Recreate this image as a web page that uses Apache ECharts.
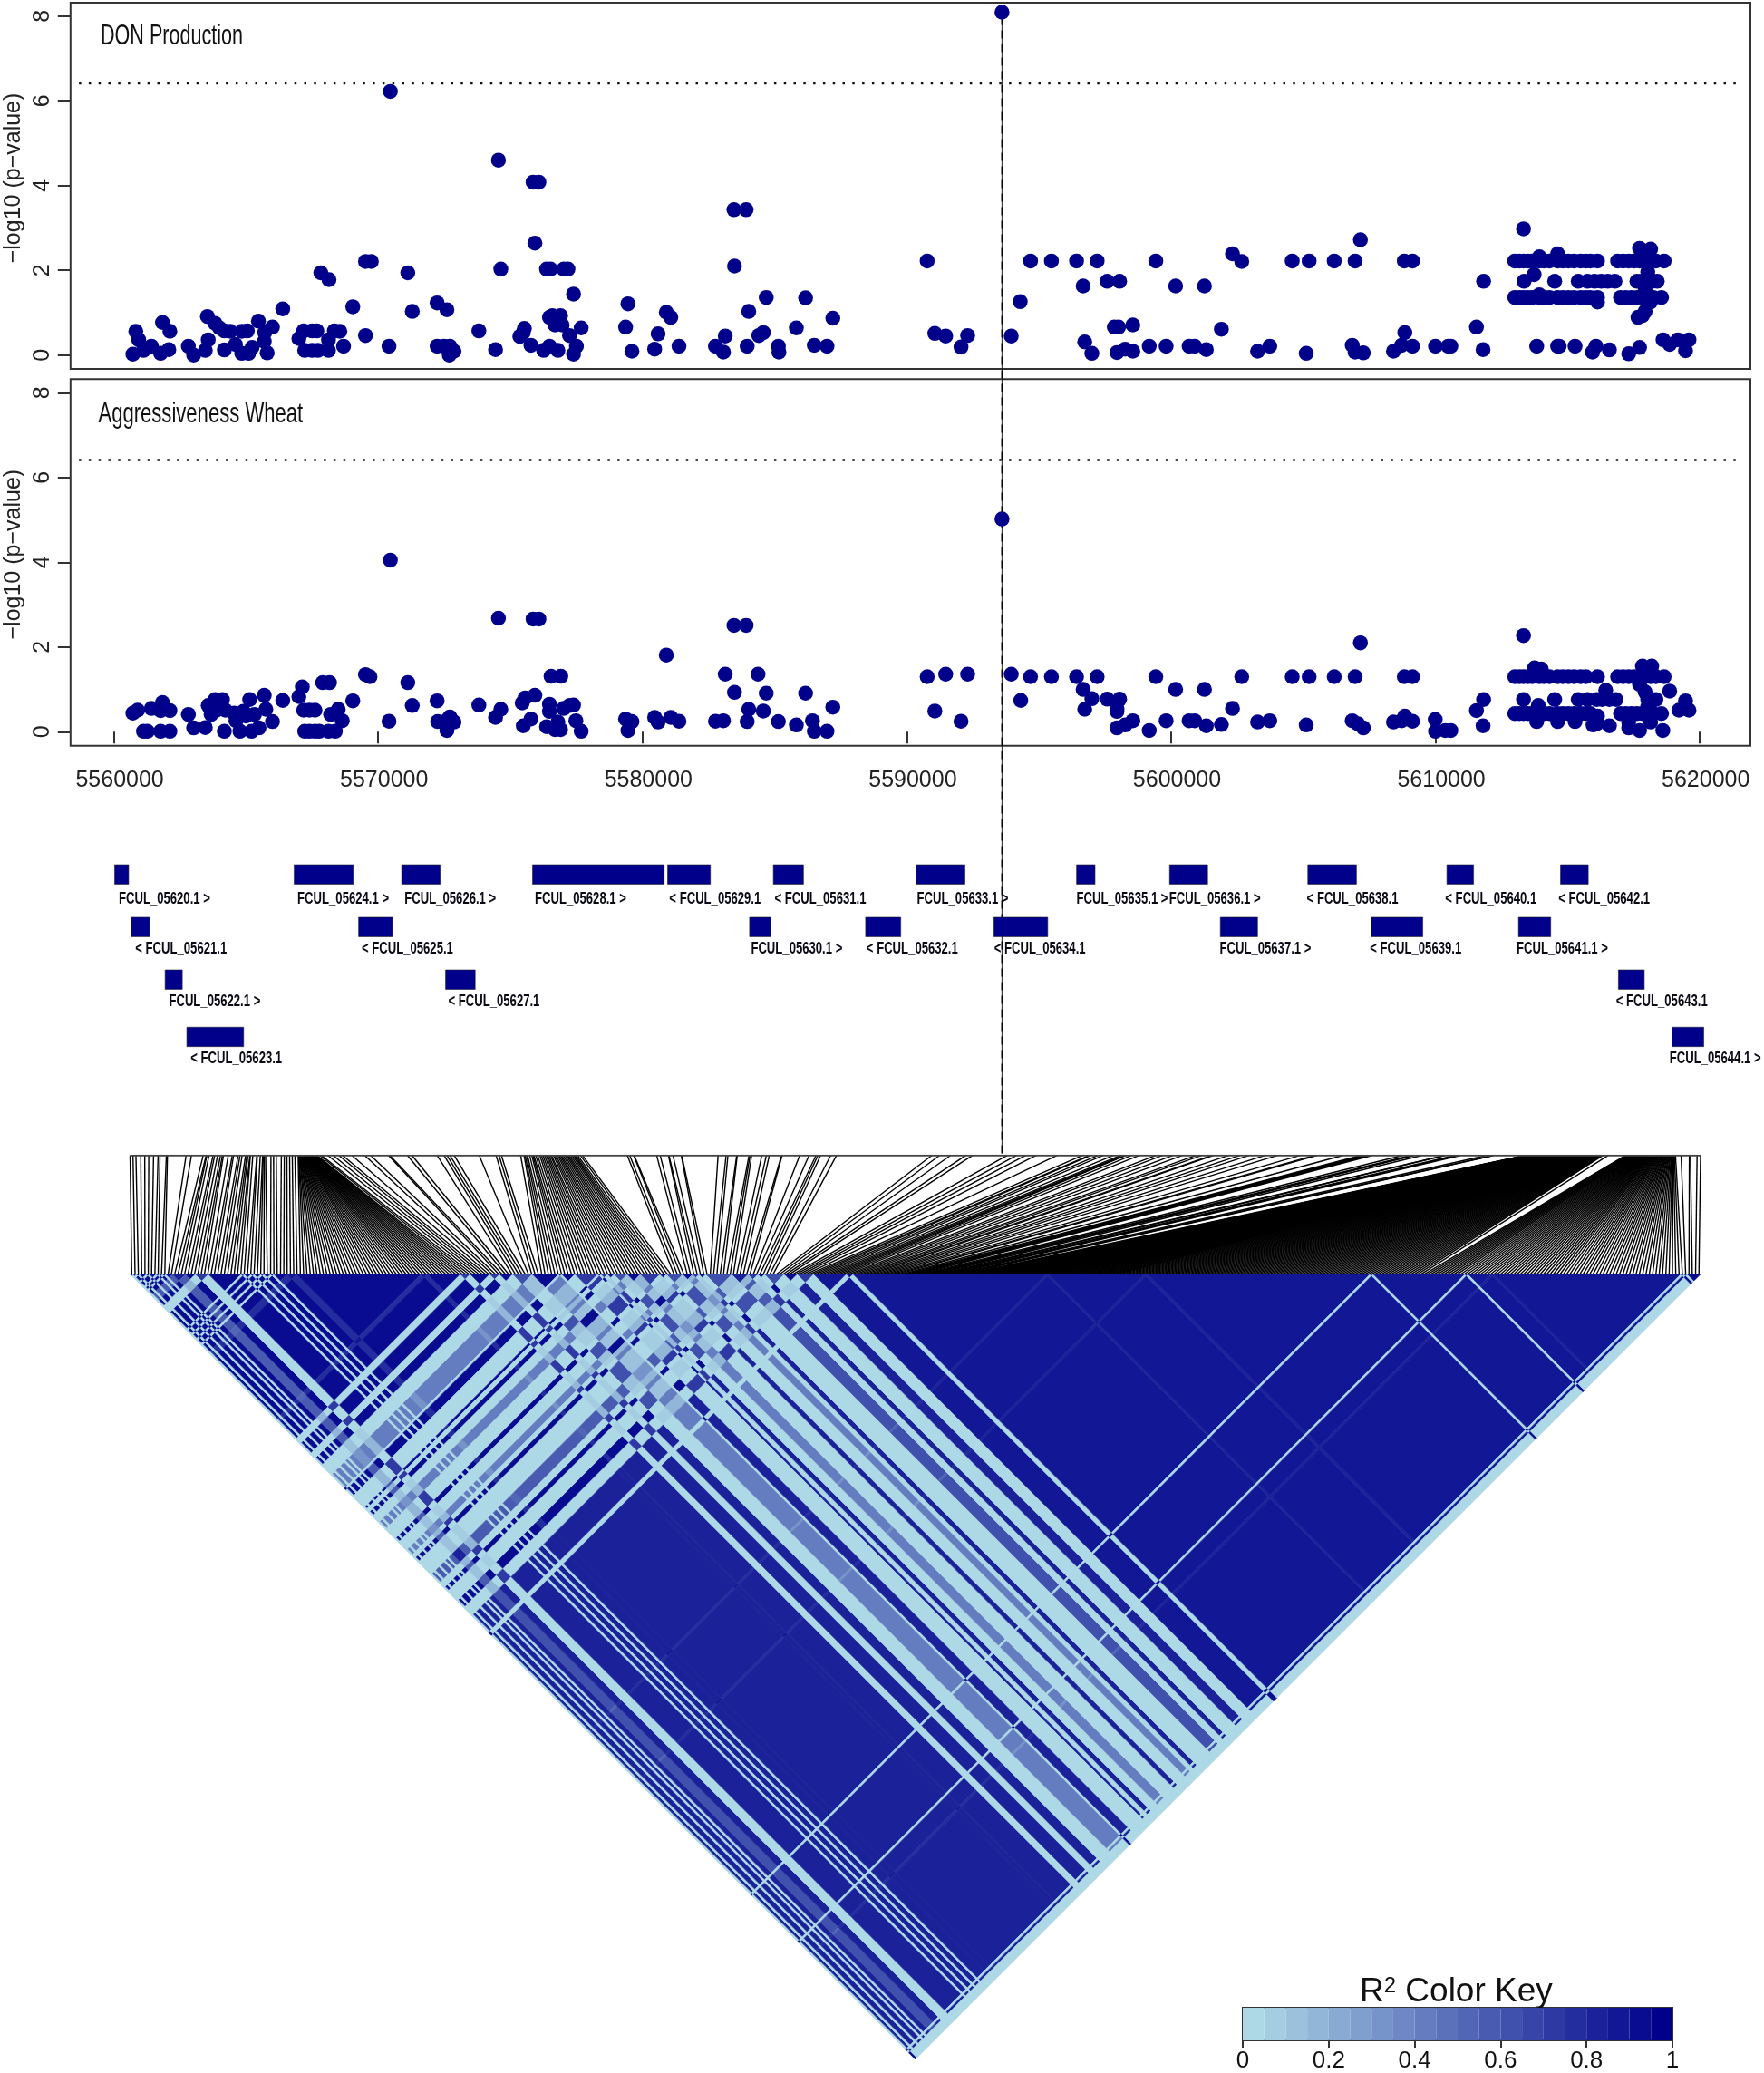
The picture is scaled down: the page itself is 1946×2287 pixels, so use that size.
<!DOCTYPE html>
<html>
<head>
<meta charset="utf-8">
<style>
  html, body { margin: 0; background: #fff; }
  #chart { width: 1946px; height: 2287px; }
</style>
<script src="https://cdn.jsdelivr.net/npm/echarts@6/dist/echarts.min.js"></script>
</head>
<body>
<div id="chart"></div>
<script>
// positions below are kb past 5560000
const ORIGIN_BP = 5560000;
const xTicks = [5560000, 5570000, 5580000, 5590000, 5600000, 5610000, 5620000];
const yTicks = [0, 2, 4, 6, 8];
const threshold = 6.41;
const leadSnp = 33.6;

const donPoints = [[.72,.02],[.83,.56],[.94,.36],[1.12,.11],[1.42,.21],[1.77,.04],[1.84,.77],[2.12,.56],[2.08,.13],[2.82,.21],[3.02,0],[3.46,.11],[3.57,.36],[3.54,.91],[3.83,.75],[4,.64],[4.18,.57],[4.18,.12],[4.4,.56],[4.6,.25],[4.84,.56],[4.84,.04],[5.05,.57],[5.1,.04],[5.23,.18],[5.47,.8],[5.69,.32],[5.71,.53],[5.8,.05],[6,.66],[6.39,1.09],[7,.39],[7.18,.57],[7.22,.11],[7.5,.57],[7.68,.57],[7.5,.11],[7.72,.11],[7.83,1.94],[8.14,1.78],[8.12,.36],[8.12,.11],[8.34,.57],[8.55,.56],[8.69,.21],[9.04,1.14],[9.52,.46],[9.52,2.21],[9.74,2.21],[10.41,.21],[10.46,6.22],[11.12,1.94],[11.29,1.03],[12.23,1.23],[12.23,.21],[12.49,.21],[12.6,1.07],[12.71,.21],[12.69,0],[12.87,.09],[13.81,.57],[14.44,.13],[14.55,4.6],[14.64,2.03],[15.36,.44],[15.49,.53],[15.53,.63],[15.78,.23],[15.93,2.64],[15.86,4.08],[16.08,4.08],[16.26,.11],[16.37,2.03],[16.52,2.03],[16.48,.21],[16.48,.89],[16.59,.93],[16.69,.71],[16.9,.93],[16.96,.71],[16.8,.11],[17.02,2.03],[17.18,2.03],[17.24,.46],[17.39,1.44],[17.5,.21],[17.39,.02],[17.68,.64],[19.36,.66],[19.45,1.21],[19.6,.09],[20.46,.14],[20.59,.5],[20.9,1.01],[21.07,.89],[21.38,.21],[22.76,.21],[23.06,.07],[23.13,.45],[23.48,2.1],[23.46,3.43],[23.92,3.43],[23.96,.21],[24.02,1.03],[24.4,.46],[24.57,.53],[24.68,1.36],[25.14,.21],[25.16,.07],[25.82,.64],[26.17,1.35],[26.5,.23],[26.98,.21],[27.2,.87],
[30.77,2.22],[31.06,.51],[31.47,.45],[32.05,.19],[32.3,.46],[33.6,8.09],[33.95,.45],[34.29,1.26],[34.68,2.22],[35.47,2.22],[36.42,2.22],[36.67,1.63],[36.73,.31],[37,.04],[37.2,2.22],[37.58,1.74],[38.05,1.74],[37.85,.66],[38.01,.66],[37.95,.06],[38.26,.14],[38.55,.71],[38.55,.09],[39.17,.21],[39.42,2.22],[39.81,.21],[40.17,1.63],[40.68,.21],[40.89,.21],[41.26,1.63],[41.33,.13],[41.9,.61],[42.32,2.39],[42.67,2.21],[43.27,.09],[43.73,.21],[44.58,2.22],[45.11,.04],[45.22,2.22],[46.17,2.22],[46.85,.23],[46.96,2.22],[46.96,.07],[47.27,.05],[47.16,2.72],[48.41,.09],[48.72,.23],[48.84,.53],[48.82,2.22],[49.13,2.22],[49.13,.21],[50,.21],[50.48,.21],[50.58,.21],[51.55,.66],[51.8,.13],[51.82,1.74],
[53,2.22],[53.17,2.22],[53.33,2.22],[53.5,2.22],[53.66,2.22],[53.93,2.32],[53.93,2.22],[54.1,2.22],[54.31,2.22],[54.62,2.39],[54.62,2.22],[54.82,2.22],[55.03,2.22],[55.24,2.22],[55.49,2.22],[55.69,2.22],[55.86,2.22],[56.13,2.22],[53.33,2.98],
[53.35,1.74],[53.73,1.9],[54.51,1.74],[55.4,1.74],[55.75,1.74],[56.02,1.74],[56.27,1.74],[56.52,1.74],[56.79,1.74],
[53,1.36],[53.17,1.36],[53.33,1.36],[53.5,1.36],[53.66,1.36],[53.93,1.42],[53.93,1.36],[54.1,1.36],[54.31,1.36],[54.62,1.36],[54.82,1.36],[55.03,1.36],[55.24,1.36],[55.49,1.36],[55.69,1.36],[55.86,1.36],[56.13,1.36],[56.13,1.25],
[56.89,2.22],[57.1,2.22],[57.31,2.22],[57.52,2.22],[57.72,2.22],[57.93,2.22],[58.14,2.22],[58.34,2.22],[58.65,2.22],[57.72,2.52],[57.93,2.42],[58.14,2.5],
[57.62,1.74],[58.39,1.74],[57.8,1.74],[58.2,1.74],[58.03,1.96],[57.93,1.53],[58.14,1.25],[57.93,1.03],[57.66,.89],[57.83,.93],[58.03,1.3],
[57,1.36],[57.2,1.36],[57.41,1.36],[57.62,1.36],[57.83,1.36],[58.03,1.36],[58.24,1.36],[58.55,1.36],
[53.83,.21],[54.62,.21],[54.68,.21],[55.28,.21],[55.94,.07],[56.07,.21],[56.58,.12],[57.31,.03],[57.72,.18],[58.61,.36],[58.86,.25],[59.17,.36],[59.46,.1],[59.59,.36]];

const aggPoints = [[.72,.44],[.9,.51],[1.12,.01],[1.27,.01],[1.42,.55],[1.77,.01],[1.84,.69],[1.77,.5],[2.12,.01],[2.12,.5],[2.82,.41],[3.02,.09],[3.46,.1],[3.57,.62],[3.68,.41],[3.83,.76],[3.89,.51],[4.11,.76],[4.18,.01],[4.22,.51],[4.55,.44],[4.62,.26],[4.77,.01],[4.9,.48],[5,.37],[5.14,.76],[5.21,.01],[5.32,.41],[5.49,.09],[5.69,.86],[5.75,.53],[6,.24],[6.39,.74],[7,.83],[7.13,1.06],[7.18,.51],[7.4,.51],[7.61,.51],[7.22,.01],[7.4,.01],[7.61,.01],[7.77,.01],[7.9,1.16],[8.16,1.16],[8.12,.01],[8.2,.41],[8.38,.01],[8.49,.53],[8.64,.26],[9.04,.73],[9.52,1.35],[9.69,1.3],[10.41,.25],[10.46,4.05],[11.12,1.16],[11.29,.62],[12.23,.73],[12.25,.24],[12.53,.24],[12.6,.03],[12.71,.35],[12.87,.23],[13.81,.63],[14.44,.34],[14.55,2.68],[14.64,.53],[15.45,.68],[15.56,.8],[15.49,.14],[15.78,.3],[15.93,.86],[15.86,2.66],[16.08,2.66],[16.37,.12],[16.48,.65],[16.48,.48],[16.69,.05],[16.8,.23],[16.9,.05],[16.54,1.31],[16.91,1.31],[17.02,.55],[17.24,.62],[17.39,.63],[17.48,.26],[17.68,.01],[19.36,.3],[19.45,.03],[19.6,.24],[20.46,.34],[20.59,.23],[20.9,1.81],[21.07,.34],[21.38,.25],[22.76,.25],[23.06,.26],[23.13,1.36],[23.48,.93],[23.46,2.51],[23.92,2.51],[23.96,.24],[24.02,.53],[24.37,1.36],[24.57,.49],[24.68,.91],[25.14,.24],[25.82,.16],[26.17,.91],[26.43,.26],[26.5,.01],[26.98,.01],[27.2,.58],
[30.77,1.3],[31.06,.49],[31.47,1.36],[32.05,.25],[32.3,1.36],[33.6,5.02],[33.95,1.36],[34.31,.74],[34.68,1.3],[35.47,1.3],[36.42,1.3],[36.67,1],[36.73,.53],[37,.78],[37.2,1.3],[37.58,.77],[37.95,.55],[37.95,.48],[38.05,.77],[37.95,.09],[38.26,.16],[38.55,.26],[39.17,.03],[39.42,1.3],[39.81,.26],[40.17,1],[40.68,.26],[40.89,.26],[41.26,1],[41.33,.14],[41.9,.17],[42.32,.55],[42.67,1.3],[43.27,.23],[43.73,.26],[44.58,1.3],[45.11,.16],[45.22,1.3],[46.17,1.3],[46.85,.26],[46.96,1.3],[47.06,.19],[47.27,.09],[47.16,2.1],[48.41,.23],[48.72,.26],[48.84,.37],[48.82,1.3],[49.13,1.3],[49.13,.25],[49.99,.29],[50,.01],[50.37,.03],[50.58,.03],[51.55,.5],[51.8,.14],[51.82,.76],
[53,1.3],[53.17,1.3],[53.33,1.3],[53.5,1.3],[53.66,1.3],[53.93,1.3],[54.1,1.3],[54.31,1.3],[54.62,1.3],[54.82,1.3],[55.03,1.3],[55.24,1.3],[55.49,1.3],[55.69,1.3],[56.13,1.3],[53.75,1.51],[54,1.48],[53.33,2.27],
[53.33,.76],[54.51,.76],[55.4,.76],[55.75,.76],[56.1,.76],[56.44,.98],[56.58,.76],[56.83,.76],[56.3,.76],
[53,.43],[53.17,.43],[53.33,.43],[53.5,.43],[53.66,.43],[53.89,.62],[53.93,.43],[54.1,.43],[54.31,.43],[54.62,.43],[54.82,.43],[55.03,.43],[55.24,.43],[55.49,.43],[55.69,.43],[55.86,.43],[56.13,.37],[56.1,.19],
[53.83,.24],[54.62,.24],[55.28,.24],[55.96,.16],[56.58,.14],
[56.89,1.3],[57.1,1.3],[57.31,1.3],[57.52,1.3],[57.72,1.3],[57.93,1.3],[58.14,1.3],[58.34,1.3],[58.65,1.3],[57.83,1.55],[58.18,1.55],[57.9,1.45],[58.1,1.45],[57.72,1.12],[57.93,.94],[58.34,.76],[58.03,.76],[58.03,.59],
[57,.43],[57.2,.43],[57.41,.43],[57.62,.43],[57.83,.43],[58.03,.43],[58.24,.43],[58.55,.43],[57.31,.09],[57.72,.03],[58.6,.03],[58.14,.23],[57.31,.23],[58.86,.96],[59.21,.51],[59.46,.73],[59.59,.51]];

const geneNames = ['FCUL_05620.1','FCUL_05621.1','FCUL_05622.1','FCUL_05623.1','FCUL_05624.1','FCUL_05625.1','FCUL_05626.1','FCUL_05627.1','FCUL_05628.1','FCUL_05629.1','FCUL_05630.1','FCUL_05631.1','FCUL_05632.1','FCUL_05633.1','FCUL_05634.1','FCUL_05635.1','FCUL_05636.1','FCUL_05637.1','FCUL_05638.1','FCUL_05639.1','FCUL_05640.1','FCUL_05641.1','FCUL_05642.1','FCUL_05643.1','FCUL_05644.1'];
const geneStart = [.03,.66,1.94,2.76,6.82,9.26,10.89,12.55,15.84,20.95,24.05,24.95,28.44,30.36,33.29,36.42,39.94,41.86,45.17,47.57,50.43,53.14,54.73,56.92,58.95];
const geneEnd = [.56,1.35,2.59,4.91,9.06,10.54,12.35,13.67,20.82,22.57,24.85,26.09,29.77,32.2,35.33,37.12,41.38,43.27,47.01,49.52,51.44,54.36,55.78,57.9,60.15];
const geneStrand = ['>','<','>','<','>','<','>','<','>','<','>','<','<','>','<','>','>','>','<','<','<','>','<','<','>'];
const geneLevel = [0,1,2,3.09,0,1,0,2,0,0,1,0,1,0,1,0,0,1,0,1,0,1,0,2,3.09];

// SNP positions behind the connector fan
const snpPositions = [.72,.83,.94,1.12,1.27,1.42,1.6,1.77,1.84,2.08,2.12,2.82,3.02,3.46,3.57,3.6,3.68,3.83,3.89,4,4.11,4.18,4.22,4.4,4.55,4.6,4.77,4.84,4.92,5.05,5.1,5.14,5.21,5.23,5.32,5.47,5.49,5.6,5.69,5.71,5.75,5.8,6,6.1,6.2,6.39,6.5,6.6,6.7,6.8,6.9,
7.02,7.04,7.05,7.07,7.08,7.1,7.11,7.13,7.14,7.15,7.17,7.18,7.2,7.21,7.23,7.24,7.25,7.27,7.28,7.3,7.31,7.33,7.34,7.35,7.37,7.38,7.4,7.41,7.42,7.44,7.45,7.47,7.48,7.5,7.51,7.52,7.54,7.55,7.57,7.58,7.6,7.61,7.62,7.64,7.65,7.67,7.68,7.69,7.71,7.72,7.73,
7.83,7.9,8.14,8.34,8.55,8.69,9.04,9.52,9.74,10.41,10.46,11.12,11.29,12.23,12.49,12.6,12.71,12.87,13.81,14.44,14.55,14.64,15.36,15.49,
15.53,15.58,15.62,15.7,15.78,15.82,15.86,15.93,16,16.08,16.14,16.2,16.26,16.32,16.37,16.42,16.48,16.52,16.59,16.64,16.69,16.75,16.8,16.85,16.9,16.96,17.02,17.08,17.13,17.18,17.24,17.3,17.35,17.39,17.44,17.5,17.6,17.68,
19.36,19.45,19.6,19.62,20.46,20.59,20.9,20.92,21.07,21.38,21.4,22.76,23.06,23.13,23.46,23.48,23.92,23.96,24.02,24.4,24.57,24.68,25.14,25.16,25.82,26.17,26.43,26.5,26.6,26.98,27.2,
30.77,31.06,31.47,32.05,32.3,33.6,33.95,34.29,34.68,35.47,36.42,36.67,36.73,37,37.2,37.58,37.85,37.95,38.01,38.05,38.26,38.55,39.17,39.42,39.81,40.17,40.68,40.89,41.26,41.33,41.9,42.32,42.67,43.27,43.73,44.58,45.11,45.22,46.17,46.85,46.96,47.06,47.16,47.27,48.41,48.72,48.82,48.84,49.13,49.99,50,50.37,50.48,50.58,51.55,51.8,51.82,
53,53.02,53.04,53.06,53.08,53.11,53.13,53.15,53.17,53.19,53.21,53.23,53.26,53.28,53.3,53.32,53.34,53.36,53.38,53.41,53.43,53.45,53.47,53.49,53.51,53.53,53.56,53.58,53.6,53.62,53.64,53.66,53.68,53.71,53.73,53.75,53.77,53.79,53.81,53.83,53.86,53.88,53.9,53.92,53.94,53.96,53.98,54.01,54.03,54.05,54.07,54.09,54.11,54.13,54.16,54.18,54.2,54.22,54.24,54.26,54.28,54.31,54.33,54.35,54.37,54.39,54.41,54.43,54.46,54.48,54.5,54.52,54.54,54.56,54.58,54.61,54.63,54.65,54.67,54.69,54.71,54.73,54.76,54.78,54.8,54.82,54.84,54.86,54.88,54.91,54.93,54.95,54.97,54.99,55.01,55.03,55.06,55.08,55.1,55.12,55.14,55.16,55.18,55.21,55.23,55.25,55.27,55.29,55.31,55.33,55.36,55.38,55.4,55.42,55.44,55.46,55.48,55.51,55.53,55.55,55.57,55.59,55.61,55.63,55.66,55.68,55.7,55.72,55.74,55.76,55.78,55.81,55.83,55.85,55.87,55.89,55.91,55.93,
56.13,56.78,56.8,56.81,56.83,56.85,56.87,56.89,56.9,56.92,56.95,56.97,57,57.02,57.05,57.07,57.09,57.12,57.14,57.17,57.19,57.22,57.24,57.27,57.29,57.31,57.34,57.36,57.39,57.41,57.44,57.46,57.49,57.51,57.53,57.56,57.58,57.61,57.63,57.66,57.68,57.7,57.73,57.75,57.78,57.8,57.83,57.85,57.88,57.9,57.92,57.95,57.97,58,58.02,58.05,58.07,58.1,58.12,58.14,58.17,58.19,58.22,58.24,58.27,58.29,58.31,58.34,58.36,58.39,58.41,58.44,58.46,58.49,58.51,58.53,58.56,58.58,58.61,58.65,
58.86,59.17,59.21,59.46,59.59];

// LD triangle: runs of neighbouring SNPs read along the base, and their r2 by class
const bandSnps = [1,1,1,2,1,2,1,1,1,2, 4,3,4,10, 1,2,1,2,1,2,1,4, 3,38,2,10, 3,6,3,4, 6,8,1,4, 7,1,2,2, 4,4, 6,2,5,3, 2,2,8,5, 3,2,6,4, 5,10, 2,59,1,29,1,68,1,28,1,7,1,57,1,1,4];
const bandClass = 'lAkAkAkAkA' + 'mAxA' + 'kAkAkAkA' + 'fAfA' + 'xAxA' + 'ynlA' + 'xAxA' + 'yn' + 'xAyn' + 'xAym' + 'xAyA' + 'xB' + 'lBfBfBlBlBfBlBl';
const classNames = 'ABmflxynk';
const classR2 = [
  [.9,.84,.55,.78,.03,.04,.04,.42,.04],
  [.84,.88,.62,.8,.03,.03,.04,.44,.03],
  [.55,.62,.82,.5,.03,.15,.1,.3,.03],
  [.78,.8,.5,.85,.03,.04,.04,.3,.03],
  [.03,.03,.03,.03,.9,.04,.04,.04,.04],
  [.04,.03,.15,.04,.04,.72,.08,.15,.04],
  [.04,.04,.1,.04,.04,.08,.6,.1,.04],
  [.42,.44,.3,.3,.04,.15,.1,.9,.04],
  [.04,.03,.03,.03,.04,.04,.04,.04,.88]
];
const keyLevels = [0,.05,.1,.15,.2,.25,.3,.35,.4,.45,.5,.55,.6,.65,.7,.75,.8,.85,.9,.95];
const keyTicks = [0,.2,.4,.6,.8,1];

const FONT = '"Liberation Sans", Arial, sans-serif';
const DOT = '#00008B';
const INK = '#333333';

const toBp = k => ORIGIN_BP + k * 1000;
const xMin = 5558361, xMax = 5621914;

// colorRamp from lightblue to darkblue, 20 steps
const ramp = keyLevels.map((_, i) => {
  const t = i / 19;
  const c = [173 - 173 * t, 216 - 216 * t, 230 - 91 * t].map(Math.round);
  return `rgb(${c[0]},${c[1]},${c[2]})`;
});
const r2Color = v => ramp[Math.min(19, Math.floor(v * 20))];

// pairs of bands become rectangles in (snp a, snp b) space
const snpCount = bandSnps.reduce((s, n) => s + n, 0);
const ldCells = [];
{
  const starts = [];
  let s = 0;
  bandSnps.forEach(n => { starts.push(s); s += n; });
  for (let p = 0; p < bandSnps.length; p++) {
    for (let q = p; q < bandSnps.length; q++) {
      const cp = classNames.indexOf(bandClass[p]);
      const cq = classNames.indexOf(bandClass[q]);
      ldCells.push([starts[p], starts[p] + bandSnps[p], starts[q], starts[q] + bandSnps[q], classR2[cp][cq]]);
    }
  }
}

const topFrom = Math.min(...snpPositions), topTo = Math.max(...snpPositions);
const fanLines = snpPositions.map((k, i) => [(k - topFrom) / (topTo - topFrom), (i + .5) / snpPositions.length]);

const geneData = geneNames.map((n, i) => [toBp(geneStart[i]), toBp(geneEnd[i]), geneLevel[i], i]);

const chart = echarts.init(document.getElementById('chart'), null, { renderer: 'canvas' });

const hiddenX = (gridIndex, min, max) => ({ gridIndex, type: 'value', min, max, show: false });
const hiddenY = (gridIndex, min, max, inverse) => ({ gridIndex, type: 'value', min, max, inverse: !!inverse, show: false });
const panelY = (gridIndex, min, max) => ({
  gridIndex, type: 'value', min, max,
  axisLine: { show: false },
  splitLine: { show: false },
  axisTick: { show: true, length: 14, customValues: yTicks, lineStyle: { color: INK, width: 2 } },
  axisLabel: { customValues: yTicks, rotate: 90, margin: 18, fontSize: 25, fontFamily: FONT, color: '#222' }
});

const condensedText = (text, x, y, fontSize, scaleX) => ({
  type: 'text', x, y, scaleX,
  style: { text, font: `${fontSize}px ${FONT}`, fill: '#111', align: 'left', verticalAlign: 'middle' }
});
const yTitle = y => ({
  type: 'text', x: 15, y, rotation: Math.PI / 2,
  style: { text: '\u2212log10 (p\u2212value)', font: `25px ${FONT}`, fill: '#222', align: 'center', verticalAlign: 'middle' }
});
const thresholdLine = idx => ({
  type: 'line', xAxisIndex: idx, yAxisIndex: idx, z: 1, silent: true, symbol: 'none',
  lineStyle: { color: '#111', width: 2.5, type: [2.5, 8.3] },
  data: [[5558680, threshold], [5621640, threshold]]
});
const dotSeries = (idx, points) => ({
  type: 'scatter', xAxisIndex: idx, yAxisIndex: idx, z: 3, silent: true,
  symbolSize: 16.5, itemStyle: { color: DOT, opacity: 1 },
  data: points.map(p => [toBp(p[0]), p[1]])
});

chart.setOption({
  animation: false,
  backgroundColor: '#fff',
  grid: [
    { left: 77.8, top: 3, width: 1853.2, height: 404, show: true, borderColor: INK, borderWidth: 2 },
    { left: 77.8, top: 418.3, width: 1853.2, height: 404.4, show: true, borderColor: INK, borderWidth: 2 },
    { left: 77.8, top: 954, width: 1853.2, height: 232 },
    { left: 77.8, top: 13, width: 1853.2, height: 1259.5 },
    { left: 143.5, top: 1274.7, width: 1732.5, height: 131 },
    { left: 143.5, top: 1405.7, width: 1732.5, height: 866.25 },
    { left: 1371, top: 2215, width: 474, height: 40, show: true, borderColor: INK, borderWidth: 2 }
  ],
  xAxis: [
    hiddenX(0, xMin, xMax),
    {
      gridIndex: 1, type: 'value', min: xMin, max: xMax,
      axisLine: { show: false },
      splitLine: { show: false },
      axisTick: { show: true, length: 13, customValues: xTicks, lineStyle: { color: INK, width: 2 } },
      axisLabel: { customValues: xTicks, formatter: v => String(v), margin: 26, fontSize: 25, fontFamily: FONT, color: '#222', padding: [0, 0, 0, 13] }
    },
    hiddenX(2, xMin, xMax),
    hiddenX(3, xMin, xMax),
    hiddenX(4, 0, 1),
    hiddenX(5, 0, snpCount),
    {
      gridIndex: 6, type: 'value', min: 0, max: 1,
      axisLine: { show: false },
      splitLine: { show: false },
      axisTick: { show: true, length: 8, customValues: keyTicks, lineStyle: { color: INK, width: 2 } },
      axisLabel: { customValues: keyTicks, margin: 10, fontSize: 26, fontFamily: FONT, color: '#111', formatter: v => String(v) }
    }
  ],
  yAxis: [
    panelY(0, -0.327, 8.314),
    panelY(1, -0.329, 8.32),
    hiddenY(2, 0, 4, true),
    hiddenY(3, 0, 1),
    hiddenY(4, 0, 1),
    hiddenY(5, 0, snpCount / 2, true),
    hiddenY(6, 0, 1)
  ],
  graphic: [
    condensedText('DON Production', 111, 40.5, 32, .674),
    condensedText('Aggressiveness Wheat', 108.4, 456.7, 32, .69),
    yTitle(196.5),
    yTitle(611.7),
    {
      type: 'text', x: 1500, y: 2198,
      style: {
        text: '{a|R}{s|2}{a| Color Key}',
        fill: '#111',
        verticalAlign: 'middle',
        rich: {
          a: { font: `37px ${FONT}`, fill: '#111' },
          s: { font: `24px ${FONT}`, fill: '#111', verticalAlign: 'top' }
        }
      }
    }
  ],
  series: [
    // lead SNP marker runs through both panels, genes and down to the LD box
    {
      type: 'line', xAxisIndex: 3, yAxisIndex: 3, z: 1, silent: true, symbol: 'none',
      lineStyle: { color: '#222', width: 1 },
      data: [[toBp(leadSnp), 0], [toBp(leadSnp), 1]]
    },
    {
      type: 'line', xAxisIndex: 3, yAxisIndex: 3, z: 1, silent: true, symbol: 'none',
      lineStyle: { color: '#000', width: 1.6, type: [9, 6] },
      data: [[toBp(leadSnp), 0], [toBp(leadSnp), 1]]
    },
    thresholdLine(0),
    thresholdLine(1),
    dotSeries(0, donPoints),
    dotSeries(1, aggPoints),
    // genes
    {
      type: 'custom', xAxisIndex: 2, yAxisIndex: 2, z: 2, silent: true, clip: false,
      data: geneData,
      renderItem(params, api) {
        const i = api.value(3);
        const a = api.coord([api.value(0), api.value(2)]);
        const b = api.coord([api.value(1), api.value(2) + .37]);
        // R drew the labels on a slightly different scale, they drift left along the axis
        const drift = 4.5 - 7.5 * geneStart[i] / 60;
        const label = geneStrand[i] === '>' ? `${geneNames[i]} >` : `< ${geneNames[i]}`;
        return {
          type: 'group',
          children: [
            { type: 'rect', shape: { x: a[0], y: a[1], width: b[0] - a[0], height: b[1] - a[1] }, style: { fill: DOT, stroke: '#223', lineWidth: .6 } },
            {
              type: 'text', x: a[0] + drift, y: a[1] + (api.value(2) === 0 ? 37.5 : 35), scaleX: .69,
              style: { text: label, font: `bold 19px ${FONT}`, fill: '#0a0a14', align: 'left', verticalAlign: 'middle' }
            }
          ]
        };
      }
    },
    // connector fan
    {
      type: 'custom', xAxisIndex: 4, yAxisIndex: 4, z: 2, silent: true, clip: false,
      data: fanLines,
      renderItem(params, api) {
        const p = api.coord([api.value(0), 1]);
        const q = api.coord([api.value(1), 0]);
        return { type: 'line', shape: { x1: p[0], y1: p[1], x2: q[0], y2: q[1] }, style: { stroke: '#000', lineWidth: 1.4 } };
      }
    },
    {
      type: 'line', xAxisIndex: 4, yAxisIndex: 4, z: 2, silent: true, symbol: 'none',
      lineStyle: { color: '#444', width: 2 },
      data: [[0, 1], [1, 1]]
    },
    // LD triangle
    {
      type: 'custom', xAxisIndex: 5, yAxisIndex: 5, z: 2, silent: true, clip: false,
      data: ldCells,
      renderItem(params, api) {
        const a0 = api.value(0), a1 = api.value(1), b0 = api.value(2), b1 = api.value(3);
        const corner = (a, b) => api.coord([(a + b) / 2, (b - a) / 2]);
        const points = a0 === b0
          ? [corner(a0, a0), corner(a1, a1), corner(a0, a1)]
          : [corner(a0, b0), corner(a1, b0), corner(a1, b1), corner(a0, b1)];
        const fill = r2Color(api.value(4));
        return { type: 'polygon', shape: { points }, style: { fill, stroke: fill, lineWidth: .7 } };
      }
    },
    // colour key
    {
      type: 'custom', xAxisIndex: 6, yAxisIndex: 6, z: 2, silent: true,
      data: keyLevels.map((v, i) => [v, i]),
      renderItem(params, api) {
        const p = api.coord([api.value(0), 1]);
        const q = api.coord([api.value(0) + .05, 0]);
        return { type: 'rect', shape: { x: p[0], y: p[1], width: q[0] - p[0], height: q[1] - p[1] }, style: { fill: ramp[api.value(1)] } };
      }
    }
  ]
});
</script>
</body>
</html>
